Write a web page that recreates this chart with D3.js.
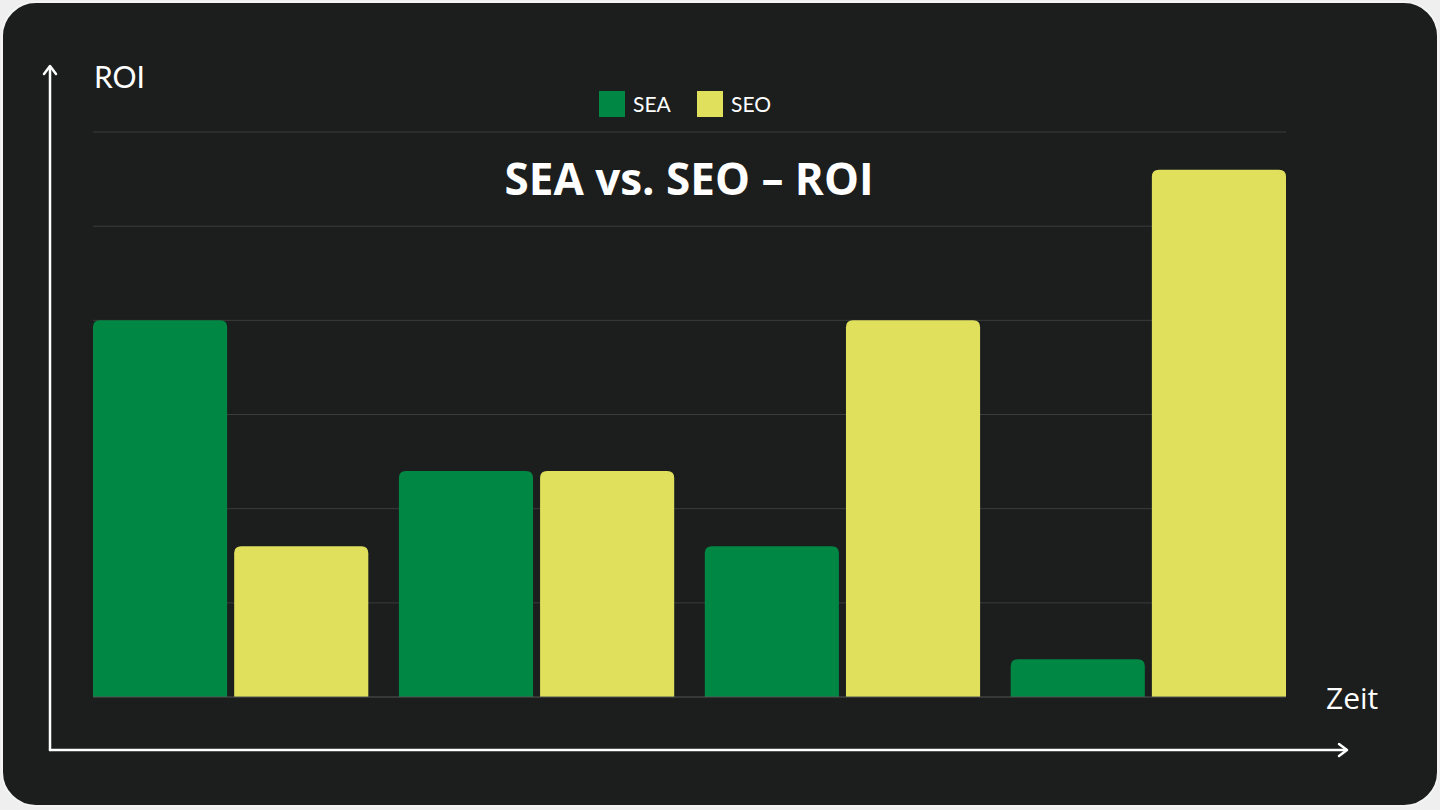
<!DOCTYPE html>
<html><head><meta charset="utf-8">
<script src="https://cdn.jsdelivr.net/npm/d3@7"></script>
<style>html,body{margin:0;padding:0;background:#efefef;}svg{display:block;}</style>
</head><body>
<script>
// chart data
const groups = ["P1", "P2", "P3", "P4"];
const seriesNames = ["SEA", "SEO"];
const seaValues = [4.0, 2.4, 1.6, 0.4];
const seoValues = [1.6, 2.4, 4.0, 5.6];
const gridTicks = [1, 2, 3, 4, 5, 6];
const colors = { SEA: "#008744", SEO: "#e0e05c" };

const W = 1440, H = 810;
const margin = { top: 132, right: 154, bottom: 113, left: 93 };

const svg = d3.select("body").append("svg").attr("width", W).attr("height", H);

// card
svg.append("rect").attr("x", 2).attr("y", 2).attr("width", W - 4).attr("height", H - 6)
  .attr("rx", 34).attr("fill", "#1b1e1d").attr("stroke", "#f4f4f4").attr("stroke-width", 2);

const x0 = d3.scaleBand().domain(groups).range([margin.left, W - margin.right]).paddingInner(0.1).paddingOuter(0);
const x1 = d3.scaleBand().domain(seriesNames).range([0, x0.bandwidth()]).paddingInner(0.05);
const y = d3.scaleLinear().domain([0, 6]).range([H - margin.bottom, margin.top]);

// gridlines
svg.append("g").selectAll("line").data(gridTicks).join("line")
  .attr("x1", margin.left).attr("x2", W - margin.right)
  .attr("y1", d => y(d)).attr("y2", d => y(d))
  .attr("stroke", "#3a3d3c").attr("stroke-width", 1);

// title
svg.append("text").attr("x", 689).attr("y", 195).attr("text-anchor", "middle")
  .attr("font-family", "Open Sans, sans-serif").attr("font-weight", 700).attr("font-size", 44)
  .attr("fill", "#ffffff").text("SEA vs. SEO – ROI");

// bars with rounded top corners
const rows = groups.map((g, i) => ({ g, SEA: seaValues[i], SEO: seoValues[i] }));
function topRounded(x, yTop, w, h, r) {
  r = Math.min(r, h, w / 2);
  return `M${x},${yTop + h}V${yTop + r}Q${x},${yTop} ${x + r},${yTop}H${x + w - r}Q${x + w},${yTop} ${x + w},${yTop + r}V${yTop + h}Z`;
}
svg.append("g").selectAll("g").data(rows).join("g")
  .attr("transform", d => `translate(${x0(d.g)},0)`)
  .selectAll("path").data(d => seriesNames.map(k => ({ k, v: d[k] }))).join("path")
  .attr("fill", d => colors[d.k])
  .attr("d", d => topRounded(x1(d.k), y(d.v), x1.bandwidth(), y(0) - y(d.v), 7));

// baseline
svg.append("line").attr("x1", margin.left).attr("x2", W - margin.right)
  .attr("y1", y(0)).attr("y2", y(0)).attr("stroke", "#555").attr("stroke-width", 1);

// legend
const legend = svg.append("g").attr("font-family", "Lato, sans-serif").attr("font-size", 21).attr("fill", "#fff");
const legendX = [599, 697];
seriesNames.forEach((s, i) => {
  legend.append("rect").attr("x", legendX[i]).attr("y", 91).attr("width", 26).attr("height", 26).attr("fill", colors[s]);
  legend.append("text").attr("x", legendX[i] + 34).attr("y", 112).attr("fill", "#fff").text(s);
});

// axis arrows
const arrow = svg.append("g").attr("stroke", "#fff").attr("stroke-width", 2.5).attr("fill", "none")
  .attr("stroke-linecap", "round").attr("stroke-linejoin", "round");
arrow.append("path").attr("d", "M50,750V68");
arrow.append("path").attr("d", "M44,74L50,66L56,74");
arrow.append("path").attr("d", "M50,750H1346");
arrow.append("path").attr("d", "M1339,744L1347,750L1339,756");

svg.append("text").attr("x", 94).attr("y", 88).attr("font-family", "Lato, sans-serif").attr("font-size", 30)
  .attr("fill", "#fff").text("ROI");
svg.append("text").attr("x", 1326).attr("y", 709).attr("font-family", "Open Sans, sans-serif").attr("font-size", 30)
  .attr("fill", "#fff").text("Zeit");
</script>
</body></html>
